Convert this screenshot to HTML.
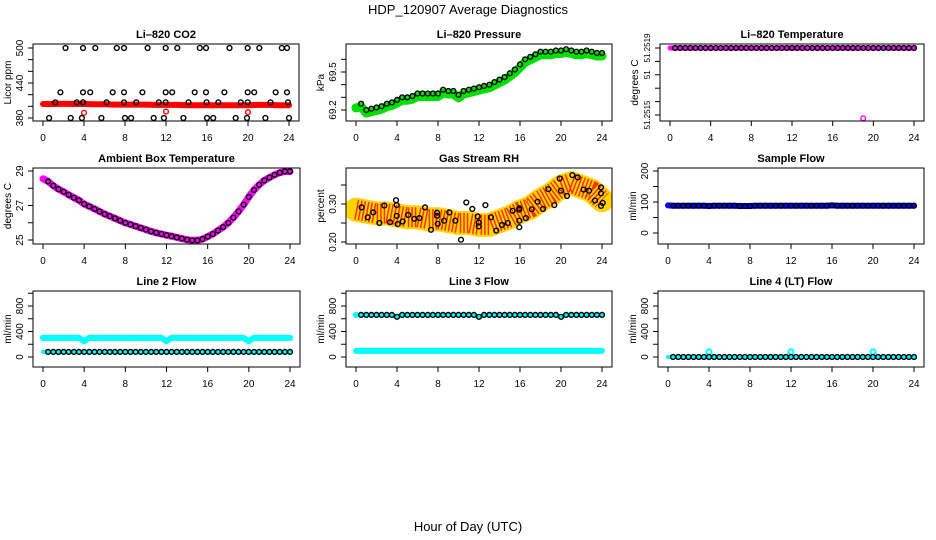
<!DOCTYPE html>
<html><head><meta charset="utf-8">
<style>
html,body{margin:0;padding:0;background:#fff;}
svg{display:block;font-family:"Liberation Sans",sans-serif;}
</style></head>
<body>
<svg id="chart" width="936" height="540" viewBox="0 0 936 540" xmlns="http://www.w3.org/2000/svg">
<text x="468" y="14" text-anchor="middle" font-size="13">HDP_120907  Average Diagnostics</text>
<text x="468" y="531" text-anchor="middle" font-size="13">Hour of Day (UTC)</text>
</svg>
<script>
// ---- data ----
const xTicks = [0,4,8,12,16,20,24];
const T = []; for (let i=0;i<=48;i++) T.push(i*0.5);

const co2Band = [404,404,404.5,404,404,403.5,403.5,403,403,403,403,402.5,402.5,402.5,402,402,402,402,402,402,402,402.5,402.5,402,402];
const co2RedOutT = [4.0,12.0,20.0];
const co2RedOutV = [389,391,390];
const co2BlackT = [2.2,3.9,5.1,7.2,7.9,10.2,11.97,13.1,15.3,15.9,18.2,19.97,21.1,23.3,23.8,
  1.7,3.9,4.6,6.8,7.9,9.7,11.97,12.6,14.8,15.9,17.7,19.97,20.6,22.7,23.8,
  1.2,3.3,3.9,6.2,7.9,9.1,11.3,11.97,14.2,15.96,17.1,19.3,19.97,22.2,23.9,
  0.6,2.7,3.8,5.7,8.0,8.6,10.8,11.8,13.7,16.0,16.6,18.8,19.9,21.7,24.0];
const co2BlackV = [500,500,500,500,500,500,500,500,500,500,500,500,500,500,500,
  424,424,424,424,424,424,424,424,424,424,424,424,424,424,424,
  407,407,407,407,407,407,407,407,407,407,407,407,407,407,407,
  380,380,380,380,380,380,380,380,380,380,380,380,380,380,380];

const pressure = [69.24,69.25,69.20,69.21,69.22,69.23,69.25,69.26,69.28,69.30,69.30,69.31,69.33,69.33,69.33,69.33,69.33,69.36,69.35,69.35,69.32,69.35,69.36,69.37,69.38,69.39,69.40,69.42,69.44,69.46,69.49,69.52,69.56,69.60,69.62,69.64,69.66,69.66,69.66,69.67,69.67,69.68,69.67,69.66,69.66,69.67,69.66,69.65,69.65];

const licorTemp = [51.2519,51.2519,51.2519,51.2519,51.2519,51.2519,51.2519,51.2519,51.2519,51.2519,51.2519,51.2519,51.2519,51.2519,51.2519,51.2519,51.2519,51.2519,51.2519,51.2519,51.2519,51.2519,51.2519,51.2519,51.2519,51.2519,51.2519,51.2519,51.2519,51.2519,51.2519,51.2519,51.2519,51.2519,51.2519,51.2519,51.2519,51.2519,51.2519,51.2519,51.2519,51.2519,51.2519,51.2519,51.2519,51.2519,51.2519,51.2519,51.2519];
const licorTempOutT = [19.0];
const licorTempOutV = [51.25148];
const licorTempTicks = [51.2519,51.25182,51.25174,51.25166,51.25158,51.2515];
const licorTempTickLabels = ["51.2519","","51","","","51.2515"];

const ambient = [28.55,28.4,28.15,27.95,27.8,27.62,27.45,27.3,27.08,26.95,26.8,26.65,26.5,26.38,26.25,26.12,26.0,25.9,25.8,25.7,25.6,25.5,25.42,25.35,25.28,25.22,25.15,25.08,25.02,24.98,24.98,25.05,25.2,25.35,25.55,25.75,26.0,26.3,26.65,27.05,27.5,27.9,28.2,28.45,28.62,28.78,28.9,28.97,28.97];

const rhBand = [0.285,0.28,0.275,0.275,0.27,0.265,0.265,0.26,0.26,0.255,0.25,0.25,0.245,0.245,0.255,0.265,0.28,0.29,0.31,0.325,0.345,0.355,0.345,0.335,0.31];
const rhCircT = [0.55,1.14,1.69,2.28,2.76,3.32,3.9,3.97,3.97,4.07,4.55,5.1,5.69,6.18,6.73,7.32,7.9,7.9,7.97,8.6,9.1,9.69,10.24,10.76,11.35,11.87,11.97,11.97,12.62,13.17,13.69,14.24,14.8,15.28,15.93,15.93,15.93,15.93,16.58,17.14,17.72,18.24,18.76,19.35,19.87,20.0,20.59,21.1,21.63,22.21,22.73,23.32,23.9,23.9,23.9,24.07];
const rhCircV = [0.291,0.265,0.278,0.250,0.296,0.252,0.310,0.297,0.269,0.247,0.254,0.271,0.261,0.263,0.291,0.232,0.277,0.269,0.248,0.256,0.278,0.256,0.206,0.304,0.287,0.267,0.241,0.251,0.297,0.265,0.230,0.245,0.250,0.282,0.289,0.285,0.239,0.256,0.263,0.286,0.306,0.287,0.339,0.297,0.367,0.335,0.321,0.376,0.370,0.338,0.335,0.309,0.344,0.328,0.295,0.303];

const sampleFlow = [89,88,88,88,88,88,88,88,87,88,88,88,88,88,87,87,87,88,88,88,88,88,88,88,88,88,88,88,88,88,88,88,89,88,88,88,88,88,88,88,88,88,88,88,88,88,88,88,88];

const line2High = [300,300,300,300,300,300,300,300,250,300,300,300,300,300,300,300,300,300,300,300,300,300,300,300,250,300,300,300,300,300,300,300,300,300,300,300,300,300,300,300,250,300,300,300,300,300,300,300,300];
const line2Low = [80,80,80,80,80,80,80,80,80,80,80,80,80,80,80,80,80,80,80,80,80,80,80,80,80,80,80,80,80,80,80,80,80,80,80,80,80,80,80,80,80,80,80,80,80,80,80,80,80];
const line3High = [660,660,660,660,660,660,660,660,630,660,660,660,660,660,660,660,660,660,660,660,660,660,660,660,630,660,660,660,660,660,660,660,660,660,660,660,660,660,660,660,630,660,660,660,660,660,660,660,660];
const line3Low = [95,95,95,95,95,95,95,95,95,95,95,95,95,95,95,95,95,95,95,95,95,95,95,95,95,95,95,95,95,95,95,95,95,95,95,95,95,95,95,95,95,95,95,95,95,95,95,95,95];
const line4 = [0,0,0,0,0,0,0,0,0,0,0,0,0,0,0,0,0,0,0,0,0,0,0,0,0,0,0,0,0,0,0,0,0,0,0,0,0,0,0,0,0,0,0,0,0,0,0,0,0];
const line4CyanT = [4,12,20];
const line4CyanV = [80,80,80];

const H = [0,1,2,3,4,5,6,7,8,9,10,11,12,13,14,15,16,17,18,19,20,21,22,23,24];

// ---- drawing ----
const svg = document.getElementById('chart');
const NS = 'http://www.w3.org/2000/svg';
function mk(tag, attrs, parent){
  const e = document.createElementNS(NS, tag);
  for (const k in attrs) e.setAttribute(k, attrs[k]);
  (parent||svg).appendChild(e); return e;
}

function panel(name, title, ylab, box, yv, yp, yTicks, yLabels, yFont){
  const g = mk('g', {});
  
  
  const x0 = box.l + 10, x24 = box.r - 10;
  const sx = t => x0 + (x24 - x0) * t / 24;
  const sy = v => yp[0] + (yp[1] - yp[0]) * (v - yv[0]) / (yv[1] - yv[0]);
  const clip = 'clip-' + name;
  const cp = mk('clipPath', {id: clip}, g);
  mk('rect', {x: box.l, y: box.t, width: box.r - box.l, height: box.b - box.t}, cp);
  const plot = mk('g', {'clip-path': 'url(#' + clip + ')'}, g);
  
  
  const tt = mk('text', {x: (box.l + box.r) / 2, y: box.t - 6, 'text-anchor': 'middle', 'font-size': 11, 'font-weight': 'bold'}, g);
  
  
  tt.textContent = title;
  xTicks.forEach(t => {
    const l = mk('line', {x1: sx(t), x2: sx(t), y1: box.b, y2: box.b + 5, stroke: '#000'}, g);
    
    
    const tx = mk('text', {x: sx(t), y: box.b + 20, 'text-anchor': 'middle', 'font-size': 10}, g);
    
    
    tx.textContent = String(t);
  });
  yTicks.forEach((v, i) => {
    const y = sy(v);
    const l = mk('line', {x1: box.l - 5, x2: box.l, y1: y, y2: y, stroke: '#000'}, g);
    
    
    if (yLabels[i]) {
      const tx = mk('text', {x: 0, y: 0, 'text-anchor': 'middle', 'font-size': yFont || 10, transform: 'translate(' + (box.l - 10) + ',' + y + ') rotate(-90)'}, g);
      
      
      tx.textContent = yLabels[i];
    }
  });
  const yl = mk('text', {x: 0, y: 0, 'text-anchor': 'middle', 'font-size': 10, transform: 'translate(' + (box.l - 22) + ',' + ((box.t + box.b) / 2) + ') rotate(-90)'}, g);
  
  
  yl.textContent = ylab;
  return {g, plot, sx, sy, box, finish(){
    const r = mk('rect', {x: box.l, y: box.t, width: box.r - box.l, height: box.b - box.t, fill: 'none', stroke: '#000', 'stroke-width': 1}, g);
    
    
  }};
}

function band(p, ts, vs, color, width, name){
  const pts = ts.map((t, i) => p.sx(t).toFixed(1) + ',' + p.sy(vs[i]).toFixed(1)).join(' ');
  const pl = mk('polyline', {points: pts, fill: 'none', stroke: color, 'stroke-width': width, 'stroke-linejoin': 'round', 'stroke-linecap': 'round'}, p.plot);
  
  
  return pl;
}
function circles(p, ts, vs, color, name, from, r, sw){
  for (let i = (from || 0); i < ts.length; i++) {
    const c = mk('circle', {cx: p.sx(ts[i]).toFixed(1), cy: p.sy(vs[i]).toFixed(1), r: r || 2.4, fill: 'none', stroke: color, 'stroke-width': sw || 1.4}, p.plot);
    
    
  }
}

// Panel 1: CO2
let p = panel('co2-panel', 'Li\u2013820 CO2', 'Licor ppm', {l:33, r:299, t:44, b:121}, [380,500], [118,48], [380,400,420,440,460,480,500], ['380','','','440','','','500']);
band(p, H, co2Band, '#ff0000', 6, 'co2-red-series');
circles(p, co2RedOutT, co2RedOutV, '#ff0000', 'co2-red-outlier');
circles(p, co2BlackT, co2BlackV, '#000', 'co2-black-point');
p.finish();

// Panel 2: Pressure
p = panel('pressure-panel', 'Li\u2013820 Pressure', 'kPa', {l:346, r:612, t:44, b:121}, [69.2,69.5], [110,72], [69.2,69.3,69.4,69.5,69.6], ['69.2','','','69.5','']);
band(p, T, pressure, '#00e000', 9, 'pressure-green-series').setAttribute('transform', 'translate(0,3)');
circles(p, T, pressure, '#000', 'pressure-point', 1);
p.finish();

// Panel 3: Licor temperature
p = panel('licor-temp-panel', 'Li\u2013820 Temperature', 'degrees C', {l:660, r:924, t:44, b:121}, [51.2519,51.2515], [48,115], licorTempTicks, licorTempTickLabels, 8);
band(p, T, licorTemp, '#ff00ff', 5, 'licor-temp-magenta-series');
circles(p, licorTempOutT, licorTempOutV, '#ff00ff', 'licor-temp-outlier');
circles(p, T, licorTemp, '#000', 'licor-temp-point', 1);
p.finish();

// Panel 4: Ambient
p = panel('ambient-panel', 'Ambient Box Temperature', 'degrees C', {l:33, r:300, t:168, b:244}, [25,29], [240,171], [25,26,27,28,29], ['25','','27','','29']);
band(p, T, ambient, '#ff00ff', 7, 'ambient-magenta-series');
circles(p, T, ambient, '#000', 'ambient-point', 1);
p.finish();

// Panel 5: RH
p = panel('rh-panel', 'Gas Stream RH', 'percent', {l:346, r:612, t:168, b:244}, [0.20,0.30], [242,204], [0.20,0.25,0.30,0.35], ['0.20','','0.30','']);
band(p, H, rhBand, '#ffd400', 24, 'rh-yellow-series');
const rhRed = band(p, H, rhBand, '#ff3000', 20, 'rh-red-series');
rhRed.setAttribute('stroke-dasharray', '1.5 2');
rhRed.setAttribute('stroke-linecap', 'butt');
circles(p, rhCircT, rhCircV, '#000', 'rh-point');
p.finish();

// Panel 6: Sample flow
p = panel('sample-flow-panel', 'Sample Flow', 'ml/min', {l:658, r:924, t:168, b:244}, [0,200], [233,171], [0,50,100,150,200], ['0','','100','','200']);
band(p, T, sampleFlow, '#0000ff', 6, 'sample-flow-blue-series');
circles(p, T, sampleFlow, '#000', 'sample-flow-point', 1);
p.finish();

// Row 3 flow panels
const flowTicks = [0,200,400,600,800,1000];
const flowLabels = ['0','','400','','800',''];
p = panel('line2-panel', 'Line 2 Flow', 'ml/min', {l:33, r:300, t:291, b:367}, [0,800], [357,306], flowTicks, flowLabels);
band(p, T, line2High, '#00ffff', 6, 'line2-high-series');
circles(p, T, line2High, '#00ffff', 'line2-high-point', 0, 2.4, 1.4);
band(p, T, line2Low, '#00ffff', 4, 'line2-low-series');
circles(p, T, line2Low, '#000', 'line2-low-point', 1);
p.finish();

p = panel('line3-panel', 'Line 3 Flow', 'ml/min', {l:346, r:612, t:291, b:367}, [0,800], [357,306], flowTicks, flowLabels);
band(p, T, line3Low, '#00ffff', 6, 'line3-low-series');
band(p, T, line3High, '#00ffff', 4, 'line3-high-series');
circles(p, T, line3High, '#00ffff', 'line3-high-cyan-point', 0);
circles(p, T, line3High, '#000', 'line3-high-point', 1);
p.finish();

p = panel('line4-panel', 'Line 4 (LT) Flow', 'ml/min', {l:658, r:924, t:291, b:367}, [0,800], [357,306], flowTicks, flowLabels);
band(p, T, line4, '#00ffff', 4, 'line4-cyan-series');
circles(p, line4CyanT, line4CyanV, '#00ffff', 'line4-cyan-point', 0, 2.6, 2);
circles(p, T, line4, '#000', 'line4-point', 1);
p.finish();
</script>
</body></html>
